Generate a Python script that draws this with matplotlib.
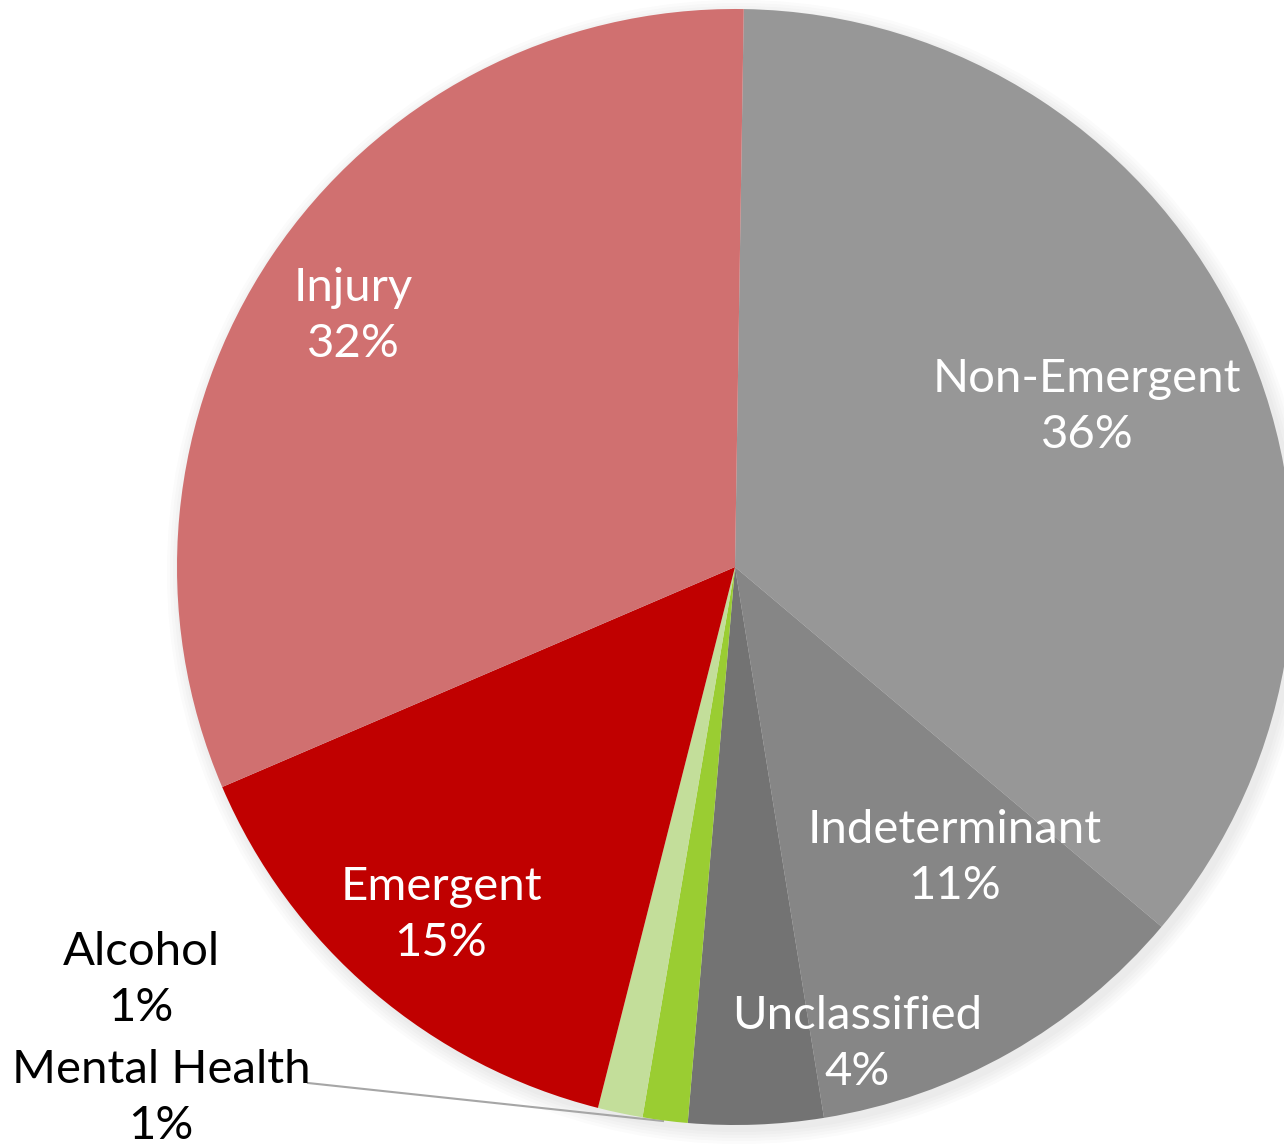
import matplotlib
matplotlib.use("Agg")
import matplotlib.pyplot as plt
from matplotlib.patches import Circle

categories = ["Non-Emergent", "Indeterminant", "Unclassified", "Mental Health",
              "Alcohol", "Emergent", "Injury"]
shares = [35.9, 11.3, 3.9, 1.3, 1.3, 14.6, 31.7]
colors = ["#979797", "#868686", "#737373", "#9ACD32", "#C3DE9A", "#C00000", "#D07070"]
text_colors = ["white", "white", "white", "black", "black", "white", "white"]
# label centres in pixel coordinates (x, y from top)
label_pos = [(1087, 407), (955, 858), (857, 1044), (161, 1098), (141, 980),
             (441, 915), (353, 316)]

W, H = 1284, 1148
fig = plt.figure(figsize=(W / 100, H / 100), dpi=100)
ax = fig.add_axes([0, 0, 1, 1])
ax.set_xlim(0, W)
ax.set_ylim(0, H)
ax.set_aspect("equal")
ax.axis("off")

cx, cy, r = 735, H - 567, 558

# soft shadow
for i in range(5):
    ax.add_patch(Circle((cx + 4, cy - 5), r + 2 + 3 * i, color="#8f8f8f", alpha=0.035, lw=0, zorder=0))

total = sum(shares)
ax.pie(shares, colors=colors, startangle=89.1, counterclock=False,
       center=(cx, cy), radius=r, frame=True,
       wedgeprops=dict(linewidth=0, zorder=2))
ax.set_xlim(0, W)
ax.set_ylim(0, H)
ax.axis("off")

font = ["Lato", "DejaVu Sans"]
for cat, v, (x, y), tc in zip(categories, shares, label_pos, text_colors):
    ax.text(x, H - y, f"{cat}\n{v / total * 100:.0f}%", ha="center", va="center",
            color=tc, fontsize=34, family=font, linespacing=1.4, zorder=5)

# leader line for Mental Health
ax.plot([308, 663], [H - 1083, H - 1121], color="#A6A6A6", lw=1.5, zorder=1)

fig.savefig("out.png", dpi=100, facecolor="white")
